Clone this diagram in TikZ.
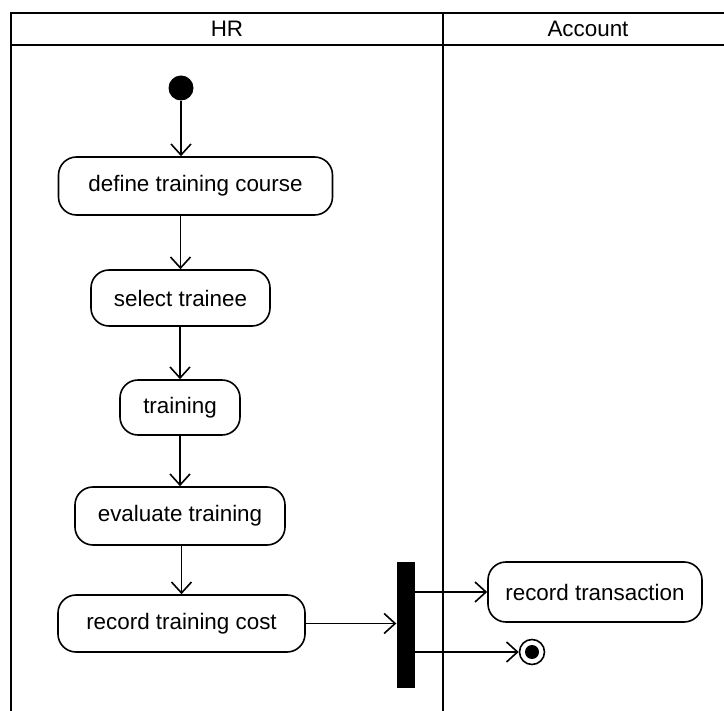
\documentclass[tikz,border=0pt]{standalone}
\usepackage{fontspec}
\setmainfont{Liberation Sans}
\usetikzlibrary{arrows.meta}
\begin{document}
\begin{tikzpicture}[x=1pt,y=-1pt,
  lane/.style={line width=2.6pt},
  action/.style={draw, line width=1.6pt, rounded corners=18pt, inner sep=0pt,
    font=\fontsize{22.4}{26}\selectfont},
  flow/.style={line width=1.6pt, -{Straight Barb[length=11pt,width=20pt,line width=1.6pt]}},
  laneTitle/.style={font=\fontsize{22.4}{26}\selectfont}
]
\useasboundingbox (0,0) rectangle (724,711);
\fill[white] (0,0) rectangle (724,711);

% swimlane frame
\begin{scope}
\clip (0,0) rectangle (724,711);
\draw[lane] (11,715) -- (11,13) -- (740,13);
\draw[lane] (11,45) -- (740,45);
\draw[lane] (443,13) -- (443,715);
\end{scope}
\node[laneTitle] (hr) at (227,29) {HR};
\node[laneTitle] (acc) at (588,29) {Account};

% actions
\node[circle, fill=black, minimum size=25pt, inner sep=0pt] (start) at (181,88) {};
\node[action, minimum width=274pt, minimum height=58pt] (def) at (195.5,186) {define training course};
\node[action, minimum width=179pt, minimum height=56pt] (sel) at (180.5,298) {select trainee};
\node[action, minimum width=120pt, minimum height=55pt] (trn) at (180,407.5) {training};
\node[action, minimum width=210pt, minimum height=58pt] (eva) at (180,516) {evaluate training};
\node[action, minimum width=247pt, minimum height=57pt] (cost) at (181.5,623.5) {record training cost};
\node[action, minimum width=214pt, minimum height=60pt] (rec) at (595,592) {record transaction};

% fork bar
\node[rectangle, fill=black, minimum width=18pt, minimum height=126pt, inner sep=0pt] (bar) at (405.5,625) {};

% final node
\node[circle, draw, line width=1.6pt, minimum size=25pt, inner sep=0pt] (end) at (532,652) {};
\node[circle, fill=black, minimum size=14pt, inner sep=0pt] (endDot) at (end) {};

% control flow
\draw[flow] (start) -- (start |- def.north);
\draw[flow] (def.south -| sel.north) -- (sel.north);
\draw[flow] (sel.south -| trn.north) -- (trn.north);
\draw[flow] (trn.south -| eva.north) -- (eva.north);
\draw[flow] (eva.south -| cost.north) -- (cost.north);
\draw[flow] (cost.east) -- (cost.east -| bar.west);
\draw[flow] (bar.east |- rec.west) -- (rec.west);
\draw[flow] (bar.east |- end.west) -- (end.west);
\end{tikzpicture}
\end{document}
